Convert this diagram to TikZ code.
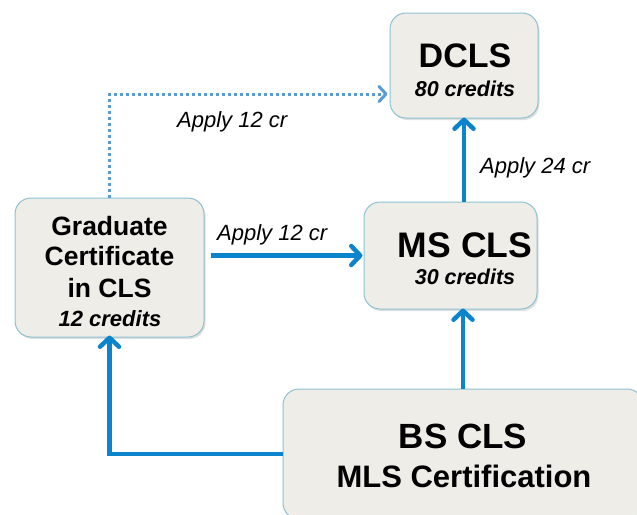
\documentclass[tikz,border=0pt]{standalone}
\usepackage{fontspec}
\setmainfont{Liberation Sans}
\usetikzlibrary{arrows.meta,shadows}
\definecolor{boxfill}{HTML}{EEEDE8}
\definecolor{boxline}{HTML}{8DC1D2}
\definecolor{arrblue}{HTML}{0B84CC}
\definecolor{dotblue}{HTML}{5B9BD5}
\tikzset{
  box/.style={draw=boxline, line width=1pt, fill=boxfill, rounded corners=16pt,
    inner sep=0pt,
    drop shadow={opacity=0.25, shadow xshift=1.5pt, shadow yshift=-2pt}},
  arr/.style={draw=arrblue, line width=4.5pt,
    -{Straight Barb[length=9pt,width=19pt,line width=4.5pt,round]}},
  dotarr/.style={draw=dotblue, line width=3pt, dash pattern=on 3pt off 3pt,
    -{Straight Barb[length=7pt,width=15pt,line width=3pt,round]}},
  txt/.style={anchor=base, inner sep=0pt, font=#1},
  lbl/.style={anchor=base west, font=\fontsize{22}{26}\selectfont\itshape, inner sep=0pt}
}
\begin{document}
\begin{tikzpicture}[x=1pt,y=-1pt]
\clip (0,0) rectangle (637,514);
\fill[white] (0,0) rectangle (637,514);
\node[box, minimum width=148pt, minimum height=105pt] (dcls) at (464,65.5) {};
\node[box, minimum width=189pt, minimum height=139pt] (grad) at (109.5,267.5) {};
\node[box, minimum width=173pt, minimum height=107pt] (ms) at (450.5,255.5) {};
\node[box, minimum width=360pt, minimum height=130pt] (bs) at (463,454) {};
% texts
\node[txt=\fontsize{34}{38}\selectfont\bfseries] (dclsA) at (465,67) {DCLS};
\node[txt=\fontsize{21.5}{24}\selectfont\bfseries\itshape] (dclsB) at (465,96) {80 credits};
\node[txt=\fontsize{26.5}{30}\selectfont\bfseries] (gradA) at (109.5,235) {Graduate};
\node[txt=\fontsize{26.5}{30}\selectfont\bfseries] (gradB) at (109.5,265) {Certificate};
\node[txt=\fontsize{26.5}{30}\selectfont\bfseries] (gradC) at (109.5,297) {in CLS};
\node[txt=\fontsize{22}{24}\selectfont\bfseries\itshape] (gradD) at (110,326) {12 credits};
\node[txt=\fontsize{35.5}{38}\selectfont\bfseries] (msA) at (465,257) {MS CLS};
\node[txt=\fontsize{21.5}{24}\selectfont\bfseries\itshape] (msB) at (465,284) {30 credits};
\node[txt=\fontsize{35}{38}\selectfont\bfseries] (bsA) at (463,448) {BS CLS};
\node[txt=\fontsize{31}{34}\selectfont\bfseries] (bsB) at (464,487) {MLS Certification};
% connectors
\coordinate (dtgt) at ([yshift=-28.5pt]dcls.west);
\draw[dotarr] (grad.north) |- ([xshift=-2pt]dtgt);
\draw[arr] ([xshift=6pt]grad.east |- ms.west) -- ([xshift=-1pt]ms.west);
\draw[arr] (ms.north -| dcls.south) -- ([yshift=1pt]dcls.south);
\draw[arr] (bs.north) -- ([yshift=1pt]bs.north |- ms.south);
\draw[arr] (bs.west) -| ([yshift=2pt]grad.south);
\node[lbl] (l1) at (177,127) {Apply 12 cr};
\node[lbl] (l2) at (217,240) {Apply 12 cr};
\node[lbl] (l3) at (480,173) {Apply 24 cr};
\end{tikzpicture}
\end{document}
